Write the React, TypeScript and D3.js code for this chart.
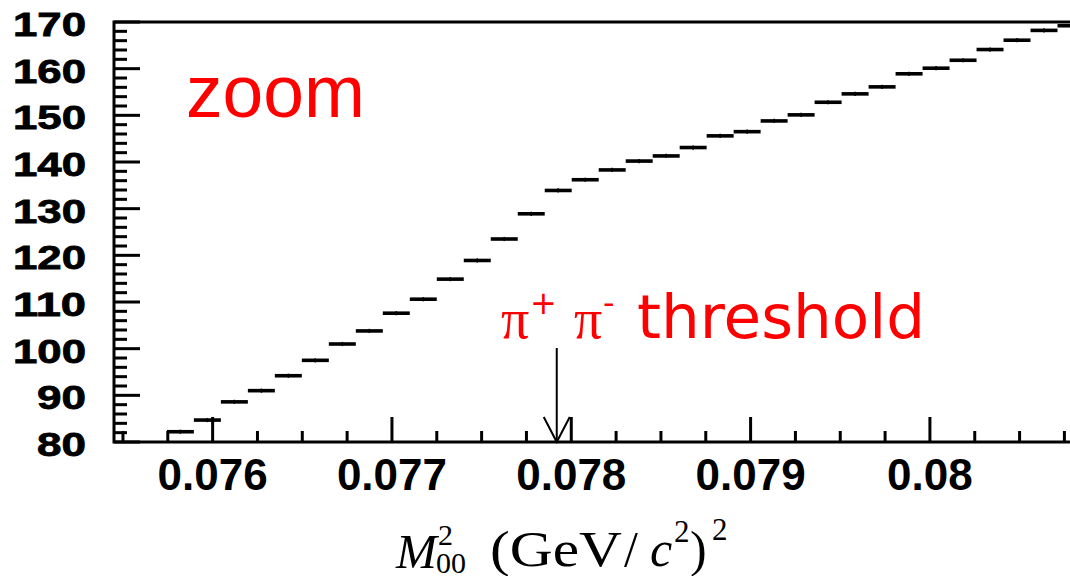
import React from "react";
import * as d3 from "d3";

// Histogram of M00^2 near the pi+ pi- threshold (zoomed region)
const binStart = 0.075745; // low edge of the first bin, (GeV/c^2)^2
const binWidth = 0.0001505;
const binCounts = [
  82.2, 84.7, 88.6, 91.0, 94.2, 97.5, 101.0, 103.8, 107.6, 110.6, 114.9, 118.9,
  123.5, 128.9, 133.9, 136.2, 138.3, 140.2, 141.3, 143.1, 145.6, 146.5, 148.8,
  150.1, 152.8, 154.6, 156.1, 158.9, 160.1, 161.8, 164.1, 166.1, 168.2, 169.2,
];
const binError = 0.45;

const xMajorValues = [0.076, 0.077, 0.078, 0.079, 0.08];
const xTickLabels = ["0.076", "0.077", "0.078", "0.079", "0.08"];
const yMajorValues = [80, 90, 100, 110, 120, 130, 140, 150, 160, 170];
const yTickLabels = ["80", "90", "100", "110", "120", "130", "140", "150", "160", "170"];

// (2 m_pi+)^2 with m_pi+ = 0.13957 GeV/c^2
const thresholdM2 = 0.077919;

const W = 1070;
const H = 576;
const frame = { left: 114, right: 1068, top: 22, bottom: 442 };

export default function App() {
  const x = d3.scaleLinear().domain([0.07545, 0.08077]).range([frame.left, frame.right]);
  const y = d3.scaleLinear().domain([80, 170]).range([frame.bottom, frame.top]);

  const xMinor = d3.range(302, 324).map((i) => i * 0.00025);
  const yMinor = d3.range(40, 86).map((i) => i * 2);

  const bins = binCounts.map((c, i) => ({
    lo: binStart + i * binWidth,
    hi: binStart + (i + 1) * binWidth,
    c,
  }));

  const ax = x(thresholdM2);

  return (
    <svg
      width={W}
      height={H}
      style={{ position: "absolute", left: 0, top: 0, display: "block", background: "#fff" }}
    >
      <defs>
        <clipPath id="plotArea">
          <rect x={frame.left} y={frame.top - 2} width={W - frame.left} height={frame.bottom - frame.top + 2} />
        </clipPath>
      </defs>
      <rect x={0} y={0} width={W} height={H} fill="#fff" />

      {/* histogram bins with error bars */}
      <g clipPath="url(#plotArea)" stroke="#000" fill="none">
        {bins.map((b, i) => (
          <g key={i}>
            <line x1={x(b.lo)} x2={x(b.hi)} y1={y(b.c)} y2={y(b.c)} strokeWidth={3.6} />
            <line
              x1={x((b.lo + b.hi) / 2)}
              x2={x((b.lo + b.hi) / 2)}
              y1={y(b.c - binError)}
              y2={y(b.c + binError)}
              strokeWidth={1.5}
            />
          </g>
        ))}
      </g>

      {/* axis ticks */}
      <g stroke="#000" strokeWidth={3}>
        {yMinor.map((v) => (
          <line
            key={"y" + v}
            x1={frame.left}
            x2={frame.left + (v % 10 === 0 ? 26 : 13)}
            y1={y(v)}
            y2={y(v)}
          />
        ))}
        {xMinor.map((v, i) => (
          <line
            key={"x" + i}
            x1={x(v)}
            x2={x(v)}
            y1={frame.bottom}
            y2={frame.bottom - ((302 + i) % 4 === 0 ? 25 : 11)}
          />
        ))}
      </g>

      {/* frame */}
      <path
        d={`M${W},${frame.top}H${frame.left}V${frame.bottom}H${W}`}
        fill="none"
        stroke="#000"
        strokeWidth={3}
      />

      {/* y tick labels */}
      <g
        fontFamily="'Liberation Sans', Arial, sans-serif"
        fontWeight="bold"
        fontSize={33}
        fill="#000"
        stroke="#000"
        strokeWidth={0.8}
      >
        {yMajorValues.map((v, i) => (
          <text
            key={v}
            x={86}
            y={y(v) + 14}
            textAnchor="end"
            textLength={yTickLabels[i].length === 3 ? 73 : 49}
            lengthAdjust="spacingAndGlyphs"
          >
            {yTickLabels[i]}
          </text>
        ))}
      </g>

      {/* x tick labels */}
      <g fontFamily="'Liberation Sans', Arial, sans-serif" fontWeight="bold" fontSize={44} fill="#000">
        {xMajorValues.map((v, i) => (
          <text key={v} x={x(v)} y={490} textAnchor="middle">
            {xTickLabels[i]}
          </text>
        ))}
      </g>

      {/* x axis title */}
      <g fontFamily="'Liberation Serif', 'Times New Roman', serif" fill="#000">
        <text x={396} y={568} fontSize={49} fontStyle="italic">M</text>
        <text x={438} y={545} fontSize={30}>2</text>
        <text x={436} y={573} fontSize={30}>00</text>
        <text x={490} y={566} fontSize={50} textLength={132} lengthAdjust="spacingAndGlyphs">(GeV</text>
        <text x={624} y={566} fontSize={50}>/</text>
        <text x={650} y={566} fontSize={50} fontStyle="italic">c</text>
        <text x={674} y={542} fontSize={31}>2</text>
        <text x={690} y={566} fontSize={50}>)</text>
        <text x={712} y={540} fontSize={31}>2</text>
      </g>

      {/* annotations */}
      <text
        x={186}
        y={116.7}
        fontFamily="'Liberation Sans', Arial, sans-serif"
        fontSize={75}
        fill="#ff0000"
        textLength={179}
        lengthAdjust="spacingAndGlyphs"
      >
        zoom
      </text>

      <g fill="#ff0000">
        <text x={501} y={338} fontFamily="'Liberation Serif', serif" fontSize={56}>π</text>
        <text x={530} y={314} fontFamily="'DejaVu Sans', sans-serif" fontSize={32}>+</text>
        <text x={574} y={338} fontFamily="'Liberation Serif', serif" fontSize={56}>π</text>
        <text x={603} y={314} fontFamily="'DejaVu Sans', sans-serif" fontSize={32}>-</text>
        <text
          x={637}
          y={338}
          fontFamily="'DejaVu Sans', sans-serif"
          fontSize={60}
          textLength={288}
          lengthAdjust="spacingAndGlyphs"
        >
          threshold
        </text>
      </g>

      {/* threshold arrow */}
      <g stroke="#000" strokeWidth={2} fill="none">
        <line x1={ax} x2={ax} y1={348} y2={frame.bottom} />
        <polyline points={`${ax - 13},${frame.bottom - 25} ${ax},${frame.bottom} ${ax + 13},${frame.bottom - 25}`} />
      </g>
    </svg>
  );
}
